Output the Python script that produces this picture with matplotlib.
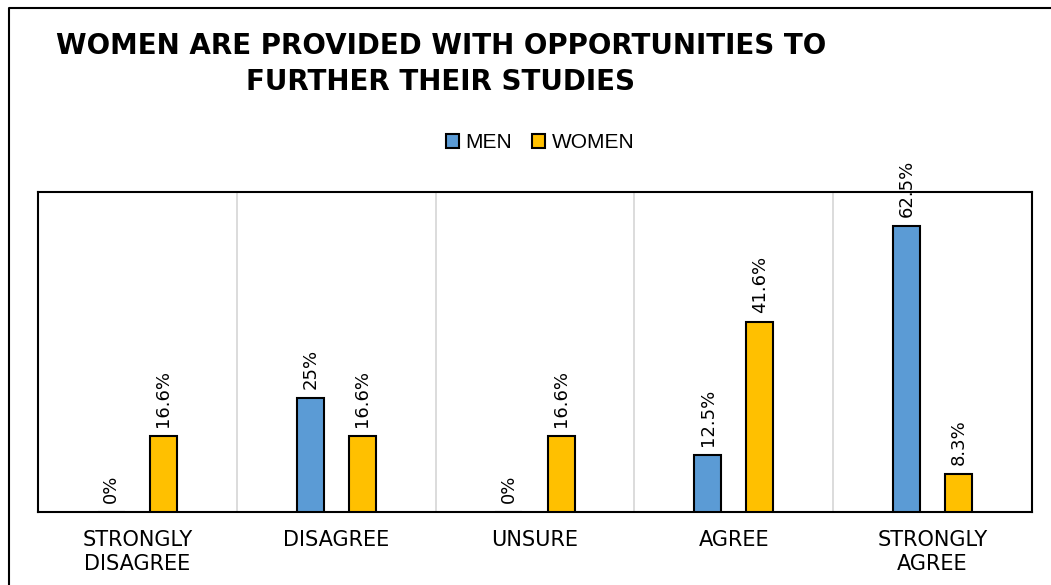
import matplotlib
matplotlib.use("Agg")
import matplotlib.pyplot as plt
from matplotlib.patches import Patch
from matplotlib.lines import Line2D
import numpy as np

categories = ["STRONGLY\nDISAGREE", "DISAGREE", "UNSURE", "AGREE", "STRONGLY\nAGREE"]
men = [0, 25, 0, 12.5, 62.5]
women = [16.6, 16.6, 16.6, 41.6, 8.3]
men_labels = ["0%", "25%", "0%", "12.5%", "62.5%"]
women_labels = ["16.6%", "16.6%", "16.6%", "41.6%", "8.3%"]
title = "WOMEN ARE PROVIDED WITH OPPORTUNITIES TO\nFURTHER THEIR STUDIES"

W, H = 1051, 585
fig = plt.figure(figsize=(W / 100, H / 100), dpi=100)
fig.patch.set_facecolor("white")

# outer chart border (partially cropped)
fig.add_artist(Line2D([9 / W, 9 / W, 1.0], [0.0, 1 - 8 / H, 1 - 8 / H],
                      transform=fig.transFigure, color="black", lw=1.5))

ax = fig.add_axes([38 / W, 73 / H, 994 / W, 320 / H])
x = np.arange(len(categories))
bw = 0.136
off = 0.131
blue = "#5B9BD5"
gold = "#FFC000"

b1 = ax.bar(x - off, men, bw, color=blue, edgecolor="black", linewidth=1.5, zorder=3)
b2 = ax.bar(x + off, women, bw, color=gold, edgecolor="black", linewidth=1.5, zorder=3)

for rects, labs in ((b1, men_labels), (b2, women_labels)):
    for r, lab in zip(rects, labs):
        ax.annotate(lab, (r.get_x() + r.get_width() / 2, r.get_height()),
                    xytext=(0, 6.5), textcoords="offset points",
                    rotation=90, ha="center", va="bottom",
                    fontsize=13, family="DejaVu Sans", color="black",
                    annotation_clip=False, zorder=4)

ax.set_xlim(-0.5, len(categories) - 0.5)
ax.set_ylim(0, 70)
ax.set_yticks([])
ax.set_xticks(x)
ax.set_xticklabels(categories, fontsize=15, family="DejaVu Sans", color="black",
                   linespacing=1.22)
ax.tick_params(axis="x", length=0, pad=13)
for b in np.arange(0.5, len(categories) - 0.5, 1.0):
    ax.axvline(b, color="#D9D9D9", lw=1.3, zorder=1)
for s in ax.spines.values():
    s.set_color("black")
    s.set_linewidth(1.5)

fig.text(441 / W, 1 - 32 / H, title, ha="center", va="top",
         fontsize=20, fontweight="bold", family="DejaVu Sans",
         color="black", linespacing=1.38)

handles = [Patch(facecolor=blue, edgecolor="black", linewidth=1.5, label="MEN"),
           Patch(facecolor=gold, edgecolor="black", linewidth=1.5, label="WOMEN")]
fig.legend(handles=handles, loc="center", bbox_to_anchor=(540 / W, 1 - 143 / H),
           ncol=2, frameon=False, handlelength=0.62, handleheight=0.62,
           handletextpad=0.3, columnspacing=1.0,
           prop={"family": "Liberation Sans", "size": 15})

fig.savefig("out.png", dpi=100, facecolor="white")
